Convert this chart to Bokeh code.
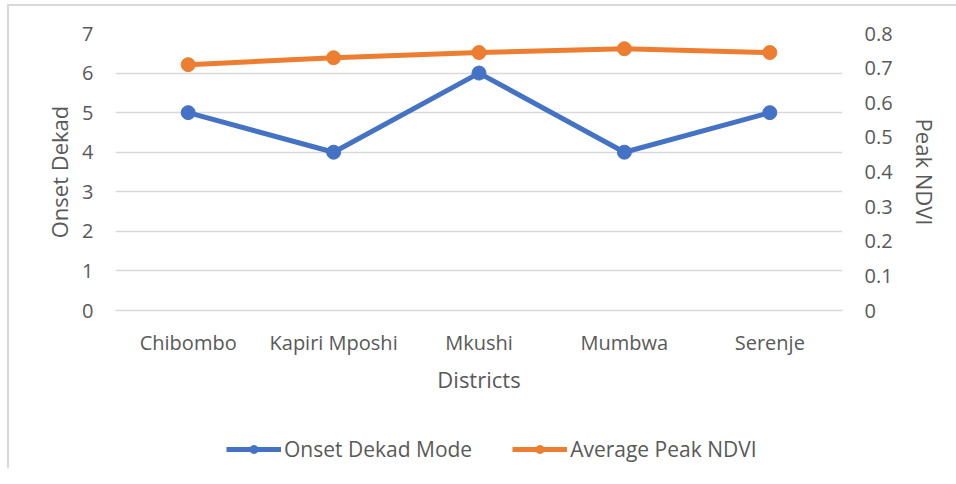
from bokeh.plotting import figure
from bokeh.layouts import column
from bokeh.models import (Range1d, LinearAxis, SingleIntervalTicker, Legend, LegendItem,
                          CustomJSTickFormatter, FactorRange)
from bokeh.embed import file_html
from bokeh.resources import INLINE

districts = ["Chibombo", "Kapiri Mposhi", "Mkushi", "Mumbwa", "Serenje"]
onset_dekad_mode = [5, 4, 6, 4, 5]
avg_peak_ndvi = [0.71, 0.73, 0.745, 0.756, 0.745]

BLUE = "#4472C4"
ORANGE = "#ED7D31"
GREY = "#595959"
GRID = "#d9d9d9"
FONT = "Open Sans"

p = figure(x_range=FactorRange(*districts, range_padding=0), y_range=Range1d(0, 7),
           frame_width=725, frame_height=275, output_backend="svg", toolbar_location=None,
           min_border_left=106, min_border_right=120, min_border_top=27, min_border_bottom=100)
p.extra_y_ranges = {"ndvi": Range1d(0, 0.8)}
p.outline_line_color = None
p.styles = {"border-left": "2px solid #d9d9d9", "border-top": "2px solid #d9d9d9",
            "margin-left": "7px", "margin-top": "4px"}

p.line(districts, onset_dekad_mode, line_color=BLUE, line_width=5)
p.scatter(districts, onset_dekad_mode, size=14, color=BLUE)
p.line(districts, avg_peak_ndvi, line_color=ORANGE, line_width=5, y_range_name="ndvi")
p.scatter(districts, avg_peak_ndvi, size=14, color=ORANGE, y_range_name="ndvi")

# left axis
p.yaxis.ticker = SingleIntervalTicker(interval=1)
p.yaxis.axis_label = "Onset Dekad"
right = LinearAxis(y_range_name="ndvi", ticker=SingleIntervalTicker(interval=0.1),
                   axis_label="Peak NDVI",
                   formatter=CustomJSTickFormatter(code="return Number(tick.toFixed(1)).toString();"))
p.add_layout(right, "right")
p.xaxis.axis_label = "Districts"

for ax in [p.yaxis[0], right, p.xaxis[0]]:
    ax.axis_line_color = None
    ax.major_tick_line_color = None
    ax.minor_tick_line_color = None
    ax.major_tick_out = 0
    ax.major_tick_in = 0
    ax.minor_tick_out = 0
    ax.major_label_text_font = FONT
    ax.major_label_text_font_size = "20px"
    ax.major_label_text_color = GREY
    ax.axis_label_text_font = FONT
    ax.axis_label_text_font_size = "22px"
    ax.axis_label_text_font_style = "normal"
    ax.axis_label_text_color = GREY
# the x axis line doubles as the gridline at 0
p.xaxis.axis_line_color = GRID
p.xaxis.axis_line_width = 1.5

p.yaxis[0].major_label_standoff = 22
right.major_label_standoff = 22
p.yaxis[0].axis_label_standoff = 5
right.axis_label_standoff = 14
p.xaxis.major_label_standoff = 18
p.xaxis.axis_label_standoff = 5

p.xgrid.grid_line_color = None
p.ygrid.grid_line_color = GRID
p.ygrid.grid_line_width = 1.5

# legend strip below the chart (its sample glyphs are kept out of view)
lg = figure(x_range=FactorRange(*districts, range_padding=0), y_range=Range1d(100, 101),
            frame_width=725, frame_height=60, output_backend="svg", toolbar_location=None,
            x_axis_type=None, y_axis_type=None,
            min_border_left=106, min_border_right=120, min_border_top=0, min_border_bottom=0)
lg.outline_line_color = None
lg.styles = {"border-left": "2px solid #d9d9d9", "margin-left": "7px"}
b_line = lg.line(districts, onset_dekad_mode, line_color=BLUE, line_width=5)
b_pts = lg.scatter(districts, onset_dekad_mode, size=14, color=BLUE)
o_line = lg.line(districts, avg_peak_ndvi, line_color=ORANGE, line_width=5)
o_pts = lg.scatter(districts, avg_peak_ndvi, size=14, color=ORANGE)

legend = Legend(items=[LegendItem(label="Onset Dekad Mode", renderers=[b_line, b_pts]),
                       LegendItem(label="Average Peak NDVI", renderers=[o_line, o_pts])],
                orientation="horizontal", location=(111, 5),
                label_text_font=FONT, label_text_font_size="21px", label_text_color=GREY,
                glyph_width=55, glyph_height=20, label_standoff=3, spacing=40,
                border_line_color=None, background_fill_alpha=0, margin=0, padding=10)
lg.add_layout(legend, "center")

layout = column(p, lg, spacing=0)
open("out.html", "w").write(file_html(layout, INLINE))
